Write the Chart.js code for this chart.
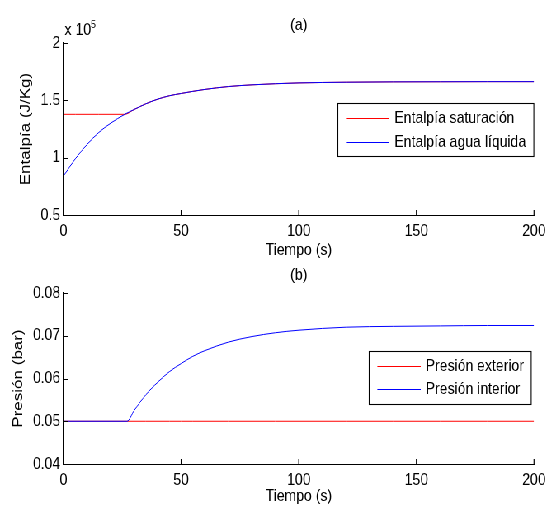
<!DOCTYPE html>
<html>
<head>
<meta charset="utf-8">
<script src="https://cdn.jsdelivr.net/npm/chart.js@4.4.1/dist/chart.umd.min.js"></script>
<style>
    body { margin:0; background:#fff; overflow:hidden; }
    /* figure is laid out 663 wide and squeezed to 547 */
    #wrap { position:relative; width:663px; height:508px; transform:scaleX(0.825); transform-origin:0 0; }
    #chart1 { position:absolute; left:0; top:0; }
    #chart2 { position:absolute; left:0; top:250px; }
</style>
</head>
<body>
<div id="wrap">
    <canvas id="chart1" width="663" height="262"></canvas>
    <canvas id="chart2" width="663" height="258"></canvas>
</div>
<script>
// (a) entalpia, J/Kg
var timeA = [0, 5, 10, 15, 20, 26, 30, 35, 40, 45, 50, 60, 70, 80, 90, 100, 120, 140, 160, 180, 200];
var hSat = [137800, 137800, 137800, 137800, 137800, 137800, 142000, 147000, 151000, 154000, 156000, 159500, 162000, 163500, 164500, 165200, 165800, 166100, 166200, 166300, 166300];
var hLiquid = [84000, 99000, 111500, 122000, 130000, 137800, 142000, 147000, 151000, 154000, 156000, 159500, 162000, 163500, 164500, 165200, 165800, 166100, 166200, 166300, 166300];

// (b) presion, bar
var timeB = [0, 27, 30, 35, 40, 45, 50, 55, 60, 70, 80, 90, 100, 120, 140, 160, 180, 200];
var pExterior = [0.05, 0.05, 0.05, 0.05, 0.05, 0.05, 0.05, 0.05, 0.05, 0.05, 0.05, 0.05, 0.05, 0.05, 0.05, 0.05, 0.05, 0.05];
var pInterior = [0.05, 0.05, 0.0525, 0.0562, 0.0591, 0.0616, 0.0635, 0.0652, 0.0665, 0.0685, 0.0698, 0.0707, 0.0713, 0.0720, 0.0722, 0.0723, 0.0724, 0.0724];

var xTicks = [0, 50, 100, 150, 200];

var FONT = "'Liberation Sans', Arial, sans-serif";
Chart.defaults.font.family = FONT;
Chart.defaults.font.size = 17;
Chart.defaults.color = '#000';

function pts(xs, ys) {
    return xs.map(function (x, i) { return {x: x, y: ys[i]}; });
}

// legend box drawn inside the axes
var boxLegend = {
    id: 'boxLegend',
    afterDatasetsDraw: function (chart, args, o) {
        var c = chart.ctx;
        c.save();
        c.fillStyle = '#fff';
        c.fillRect(o.x, o.y, o.w, o.h);
        c.strokeStyle = '#000';
        c.lineWidth = 1.1;
        c.strokeRect(Math.round(o.x) + 0.5, Math.round(o.y) + 0.5, o.w, o.h);
        c.font = '17px ' + FONT;
        c.textBaseline = 'middle';
        c.fillStyle = '#000';
        c.lineWidth = 1;
        chart.data.datasets.forEach(function (ds, i) {
            var y = Math.round(o.y + o.first + i * o.gap) + 0.5;
            c.strokeStyle = ds.borderColor;
            c.beginPath();
            c.moveTo(o.x + o.l1, y);
            c.lineTo(o.x + o.l2, y);
            c.stroke();
            c.fillText(ds.label, o.x + o.tx, y);
        });
        c.restore();
    }
};

// short tick marks pointing into the plot
var innerTicks = {
    id: 'innerTicks',
    afterDraw: function (chart) {
        var c = chart.ctx, a = chart.chartArea;
        var sx = chart.scales.x, sy = chart.scales.y;
        c.save();
        c.strokeStyle = '#000';
        c.beginPath();
        c.lineWidth = 1.2;
        sx.ticks.forEach(function (t) {
            var x = sx.getPixelForValue(t.value);
            c.moveTo(x, a.bottom);
            c.lineTo(x, a.bottom - 5);
        });
        c.stroke();
        c.beginPath();
        c.lineWidth = 1;
        sy.ticks.forEach(function (t) {
            var y = Math.round(sy.getPixelForValue(t.value)) + 0.5;
            c.moveTo(a.left, y);
            c.lineTo(a.left + 6, y);
        });
        c.stroke();
        c.restore();
    }
};

// panel title and the exponent note
var panelText = {
    id: 'panelText',
    afterDraw: function (chart, args, o) {
        var c = chart.ctx, a = chart.chartArea;
        c.save();
        c.fillStyle = '#000';
        c.textAlign = 'center';
        c.textBaseline = 'middle';
        c.font = '17px ' + FONT;
        c.fillText(o.title, (a.left + a.right) / 2, a.top - 18);
        if (o.exp) {
            c.textAlign = 'left';
            c.textBaseline = 'alphabetic';
            c.fillText('x 10', a.left + 1.2, 35);
            c.font = '11px ' + FONT;
            c.fillText(o.exp, a.left + 33, 28.3);
        }
        c.restore();
    }
};

function xScale(h) {
    return {
        type: 'linear',
        min: 0,
        max: 200,
        afterBuildTicks: function (s) { s.ticks = xTicks.map(function (v) { return {value: v}; }); },
        ticks: { padding: 6.5, maxRotation: 0, autoSkip: false },
        grid: { drawOnChartArea: false, drawTicks: false },
        border: { color: '#000', width: 1 },
        title: { display: true, text: 'Tiempo (s)', padding: {top: 0, bottom: 1} },
        afterFit: function (s) {
            s.height = h;
            s.paddingLeft = 0;
            s.paddingRight = 0;
        }
    };
}

function yScale(title, tpad) {
    return {
        grid: { drawOnChartArea: false, drawTicks: false },
        border: { color: '#000', width: 1.2 },
        title: { display: true, text: title, padding: {top: tpad, bottom: 0} },
        afterFit: function (s) {
            s.width = 77;
            s.paddingTop = 0;
            s.paddingBottom = 0;
        }
    };
}

var myChart = new Chart(document.getElementById('chart1'), {
    type: 'line',
    data: {
        datasets: [{
            label: 'Entalpía saturación',
            data: pts(timeA, hSat),
            borderColor: '#ff0000',
            borderWidth: 1,
            pointRadius: 0,
            cubicInterpolationMode: 'monotone',
            order: 1
        }, {
            label: 'Entalpía agua líquida',
            data: pts(timeA, hLiquid),
            borderColor: '#0000ff',
            borderWidth: 1,
            pointRadius: 0,
            cubicInterpolationMode: 'monotone',
            order: 0
        }]
    },
    options: {
        responsive: false,
        animation: false,
        layout: { padding: { top: 43, right: 15.7, left: 0, bottom: 0 } },
        plugins: {
            legend: { display: false },
            tooltip: { enabled: false },
            boxLegend: { x: 408.5, y: 103, w: 237.6, h: 53, first: 15.3, gap: 23.4, l1: 10.9, l2: 63, tx: 69.5 },
            panelText: { title: '(a)', exp: '5' }
        },
        scales: {
            x: xScale(47),
            y: Object.assign(yScale('Entalpía (J/Kg)', 20.7), {
                min: 50000,
                max: 200000,
                ticks: {
                    stepSize: 50000,
                    padding: 4,
                    callback: function (v) { return String(v / 100000); }
                }
            })
        }
    },
    plugins: [innerTicks, boxLegend, panelText]
});

var myChart2 = new Chart(document.getElementById('chart2'), {
    type: 'line',
    data: {
        datasets: [{
            label: 'Presión exterior',
            data: pts(timeB, pExterior),
            borderColor: '#ff0000',
            borderWidth: 1,
            pointRadius: 0,
            order: 1
        }, {
            label: 'Presión interior',
            data: pts(timeB, pInterior),
            borderColor: '#0000ff',
            borderWidth: 1,
            pointRadius: 0,
            cubicInterpolationMode: 'monotone',
            order: 0
        }]
    },
    options: {
        responsive: false,
        animation: false,
        layout: { padding: { top: 43, right: 15.7, left: 0, bottom: 0 } },
        plugins: {
            legend: { display: false },
            tooltip: { enabled: false },
            boxLegend: { x: 447.3, y: 100.7, w: 196.4, h: 53, first: 15.3, gap: 23, l1: 10.1, l2: 62.7, tx: 68.7 },
            panelText: { title: '(b)' }
        },
        scales: {
            x: xScale(44),
            y: Object.assign(yScale('Presión (bar)', 12.2), {
                min: 0.04,
                max: 0.08,
                ticks: {
                    stepSize: 0.01,
                    padding: 4,
                    callback: function (v) { return v.toFixed(2); }
                }
            })
        }
    },
    plugins: [innerTicks, boxLegend, panelText]
});
</script>
</body>
</html>
